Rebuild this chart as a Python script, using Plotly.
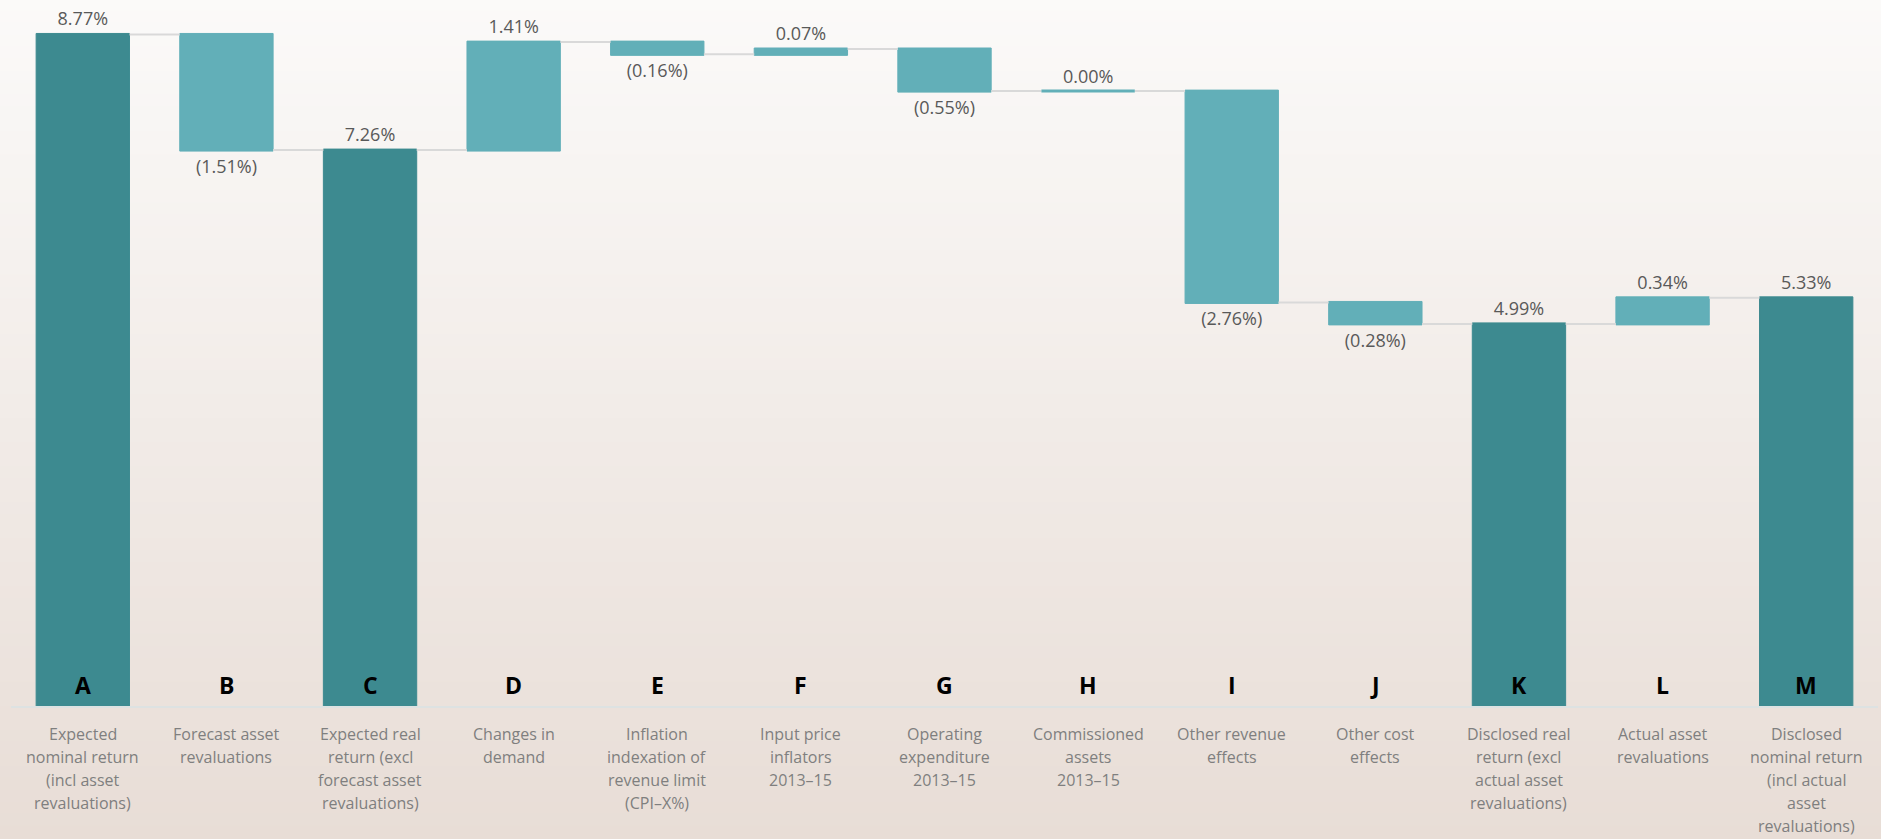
import plotly.graph_objects as go

# ---- data ----
letters = ["A", "B", "C", "D", "E", "F", "G", "H", "I", "J", "K", "L", "M"]
descriptions = [
    "Expected<br>nominal return<br>(incl asset<br>revaluations)",
    "Forecast asset<br>revaluations",
    "Expected real<br>return (excl<br>forecast asset<br>revaluations)",
    "Changes in<br>demand",
    "Inflation<br>indexation of<br>revenue limit<br>(CPI–X%)",
    "Input price<br>inflators<br>2013–15",
    "Operating<br>expenditure<br>2013–15",
    "Commissioned<br>assets<br>2013–15",
    "Other revenue<br>effects",
    "Other cost<br>effects",
    "Disclosed real<br>return (excl<br>actual asset<br>revaluations)",
    "Actual asset<br>revaluations",
    "Disclosed<br>nominal return<br>(incl actual<br>asset<br>revaluations)",
]
values = [8.77, -1.51, 7.26, 1.41, -0.16, 0.07, -0.55, 0.00, -2.76, -0.28, 4.99, 0.34, 5.33]
measures = ["absolute", "relative", "total", "relative", "relative", "relative", "relative",
            "relative", "relative", "relative", "total", "relative", "total"]
labels = [f"({abs(v):.2f}%)" if v < 0 else f"{v:.2f}%" for v in values]

# ---- style ----
W, H = 1881, 839
ML, MR, MT, MB = 11, 3, 0, 133
DARK = "#3d8a90"
LIGHT = "#62afb8"
TOP_BG = (251, 250, 249)
BOT_BG = (232, 221, 214)
GAP = 0.35
LABEL_FIRST = 28   # px below axis for centre of first description line
LABEL_STEP = 23    # px between description lines

fig = go.Figure()
fig.add_trace(go.Waterfall(
    x=letters,
    y=[values[i] if measures[i] != "total" else 0 for i in range(len(values))],
    measure=measures,
    text=labels,
    textposition="outside",
    textfont=dict(family="Open Sans", size=18, color="#595959"),
    cliponaxis=False,
    increasing=dict(marker=dict(color=LIGHT, line=dict(color=LIGHT, width=1))),
    decreasing=dict(marker=dict(color=LIGHT, line=dict(color=LIGHT, width=1))),
    totals=dict(marker=dict(color=DARK, line=dict(color=DARK, width=1))),
    connector=dict(line=dict(color="#d9d9d9", width=2)),
    hoverinfo="skip",
))

# zero-height steps drawn as a thin line at their running level
running = 0.0
shapes = []
for i, (m, v) in enumerate(zip(measures, values)):
    if m == "absolute":
        running = v
    elif m == "relative":
        if v == 0:
            shapes.append(dict(type="line", xref="x", yref="y",
                               x0=i - (1 - GAP) / 2, x1=i + (1 - GAP) / 2,
                               y0=running, y1=running,
                               line=dict(color=LIGHT, width=3), layer="above"))
        running += v

# letters above the axis, descriptions below it
for l, d in zip(letters, descriptions):
    fig.add_annotation(x=l, y=0, xref="x", yref="y", text=f"<b>{l}</b>",
                       showarrow=False, yanchor="bottom", yshift=3,
                       font=dict(family="Open Sans", size=23, color="#000000"))
    for k, line in enumerate(d.split("<br>")):
        fig.add_annotation(x=l, y=0, xref="x", yref="paper", text=line,
                           showarrow=False, yanchor="middle", xanchor="center",
                           yshift=-(LABEL_FIRST + LABEL_STEP * k),
                           font=dict(family="Open Sans", size=16, color="#7f7f7f"))

# gradient background
N = 70
plot_h = H - MT - MB
y_bot = -MB / plot_h
y_top = 1 + MT / plot_h
for i in range(N):
    t0 = i / N
    t1 = (i + 1) / N
    tm = (t0 + t1) / 2
    c = tuple(round(TOP_BG[k] + (BOT_BG[k] - TOP_BG[k]) * tm) for k in range(3))
    shapes.append(dict(type="rect", xref="paper", yref="paper",
                       x0=-ML / (W - ML - MR) - 0.01, x1=1 + MR / (W - ML - MR) + 0.01,
                       y0=y_top - (y_top - y_bot) * t1 - 0.002,
                       y1=y_top - (y_top - y_bot) * t0 + 0.002,
                       fillcolor=f"rgb{c}", line=dict(width=0), layer="below"))

fig.update_layout(
    width=W, height=H,
    margin=dict(l=ML, r=MR, t=MT, b=MB),
    paper_bgcolor="rgb(240,235,232)",
    plot_bgcolor="rgba(0,0,0,0)",
    shapes=shapes,
    showlegend=False,
    waterfallgap=GAP,
    xaxis=dict(
        showticklabels=False,
        showline=True, linecolor="#dde2e2", linewidth=2,
        ticks="", showgrid=False, zeroline=False,
    ),
    yaxis=dict(range=[0, 9.22], visible=False, showgrid=False, zeroline=False),
)

fig.write_html("out.html", config={"displayModeBar": False},
               post_script="document.body.style.margin='0';document.body.style.overflow='hidden';")
